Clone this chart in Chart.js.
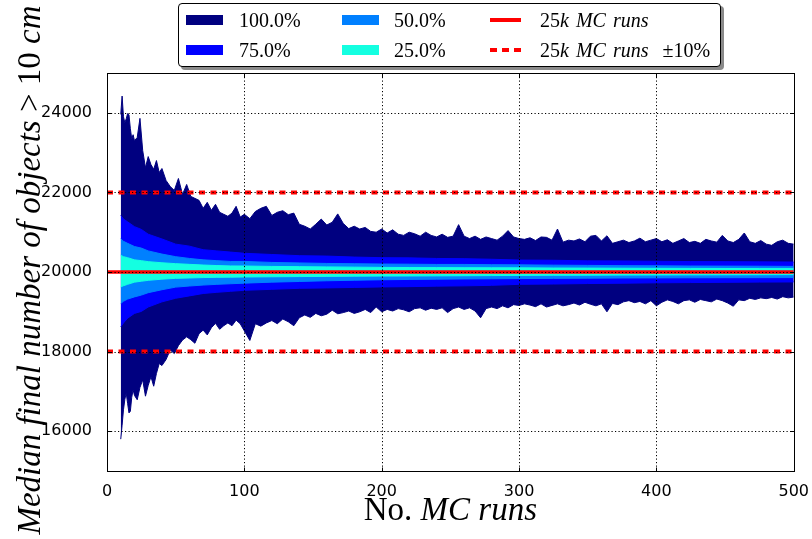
<!DOCTYPE html>
<html><head><meta charset="utf-8">
<script src="https://cdn.jsdelivr.net/npm/chart.js@4.4.1/dist/chart.umd.min.js"></script>
<style>
html,body{margin:0;padding:0;background:#fff;}
#wrap{position:relative;width:812px;height:539px;overflow:hidden;background:#fff;}
#legend{position:absolute;left:178px;top:3px;width:541px;height:62px;border:1px solid #000;border-radius:4px;background:#fff;box-shadow:3px 3px 0 #8a8a8a;font-family:"Liberation Serif",serif;font-size:20px;color:#000;}
.sw{position:absolute;height:10px;width:37px;}
.ln{position:absolute;height:3.5px;width:31px;}
.tx{position:absolute;line-height:20px;white-space:nowrap;word-spacing:2px;}
</style></head>
<body><div id="wrap"><canvas id="c" width="812" height="539"></canvas><div id="legend"></div></div>
<script>
// ---------- data ----------
const runsOuter = [10,11,12,13,14,15,16,17,18,19,20,22,24,26,28,30,32,34,36,38,40,43,46,49,52,55,58,61,64,67,70,73,76,79,82,85,88,91,94,97,100,
104,108,112,116,120,124,128,132,136,140,144,148,152,156,160,164,168,172,176,180,184,188,192,196,200,
204,208,212,216,220,224,228,232,236,240,244,248,252,256,260,264,268,272,276,280,284,288,292,296,300,
304,308,312,316,320,324,328,332,336,340,344,348,352,356,360,364,368,372,376,380,384,388,392,396,400,
404,408,412,416,420,424,428,432,436,440,444,448,452,456,460,464,468,472,476,480,484,488,492,496,500];

const upper100 = [23960,24420,23900,23750,23850,23980,23950,23600,23350,23450,23300,23380,23860,23050,22620,22900,22700,22580,22800,22500,22600,22300,22150,22050,22350,21950,22200,21900,21850,21800,21600,21750,21550,21700,21500,21450,21400,21480,21650,21380,21450,
21340,21520,21600,21650,21420,21500,21540,21440,21480,21200,21150,21080,21200,21330,21180,21250,21460,21220,21090,21150,21080,21120,21020,21000,21080,
20980,21060,20950,20920,21000,20960,20900,21000,20920,20880,20950,20870,20900,21190,20900,20840,20900,20820,20880,20840,20800,20900,21040,20880,20840,
20820,20860,20790,20880,20870,20800,21080,20750,20800,20780,20830,20760,20900,20920,20780,20910,20720,20760,20800,20740,20780,20850,20760,20800,20840,
20760,20810,20720,20780,20840,20740,20770,20720,20820,20780,20750,20920,20780,20740,20820,20980,20760,20720,20790,20700,20670,20760,20800,20720,20700];

const lower100 = [15800,16150,16540,16800,16960,16700,16460,16500,16850,17040,16900,16790,17100,17290,16880,17150,17370,17130,17450,17700,17650,17800,18040,17950,18150,18290,18370,18300,18210,18450,18540,18420,18600,18710,18560,18650,18720,18650,18790,18700,18520,
18280,18700,18640,18720,18780,18700,18820,18750,18650,18850,18920,18860,18960,18900,18940,19040,18950,18980,19020,18960,19000,19060,18980,19120,19000,
19060,19020,19080,19050,19000,19080,19100,19040,19090,19060,19100,18980,19080,19120,19060,19100,19020,18850,19080,19120,19080,19150,19100,19180,19160,
19200,19170,19130,19200,19120,19160,19200,19150,19180,19220,19170,19240,19190,19150,19200,19000,19210,19180,19250,19280,19230,19260,19200,19280,19150,
19240,19300,19260,19200,19280,19300,19240,19310,19280,19250,19320,19280,19220,19140,19300,19280,19340,19310,19350,19330,19360,19320,19380,19350,19370];

const runsInner = [10,12,15,20,25,30,40,50,60,70,80,90,100,120,140,160,180,200,220,240,260,280,300,325,350,375,400,425,450,475,500];
const upper75 = [21420,21330,21260,21140,21070,20950,20830,20700,20650,20560,20530,20500,20470,20440,20410,20400,20375,20360,20355,20340,20335,20320,20300,20295,20280,20278,20270,20262,20260,20255,20250];
const lower75 = [18625,18720,18840,18960,19010,19120,19250,19340,19400,19460,19490,19515,19540,19565,19590,19600,19612,19625,19632,19645,19652,19665,19690,19698,19710,19718,19728,19735,19740,19746,19750];
const upper50 = [20835,20770,20720,20640,20600,20530,20450,20385,20340,20305,20285,20265,20265,20240,20228,20215,20208,20200,20196,20190,20190,20184,20180,20172,20166,20160,20156,20150,20148,20145,20140];
const lower50 = [19210,19265,19320,19375,19420,19480,19555,19620,19648,19672,19690,19705,19720,19745,19762,19780,19793,19805,19813,19820,19826,19830,19835,19840,19845,19850,19852,19855,19857,19858,19860];
const upper25 = [20420,20385,20360,20305,20285,20260,20232,20210,20192,20175,20162,20152,20150,20140,20135,20128,20122,20116,20112,20110,20108,20106,20105,20100,20098,20095,20092,20090,20088,20086,20085];
const lower25 = [19625,19655,19690,19745,19768,19790,19820,19840,19850,19860,19866,19870,19875,19880,19885,19890,19895,19898,19900,19903,19906,19910,19915,19918,19920,19923,19926,19928,19930,19932,19935];

const refRange = [0, 500];
const refLevel = 20000;
const refUpper = 22000;
const refLower = 18000;

const xTicks = [0,100,200,300,400,500];
const yTicks = [16000,18000,20000,22000,24000];

const bandLabels = ['100.0%','75.0%','50.0%','25.0%'];
const bandColors = ['#000080','#0000ff','#0080ff','#14ffe1'];
const refColor = '#ff0000';

const xTitleParts = [['No.','normal'],[' MC runs','italic']];
const yTitleParts = [['Median final number of objects ','italic'],['> 10','normal'],[' cm','italic']];

// ---------- helpers ----------
const pts = (xs, ys) => xs.map((x, i) => ({x: x, y: ys[i]}));
const bandData = [
  [runsOuter, upper100, lower100],
  [runsInner, upper75, lower75],
  [runsInner, upper50, lower50],
  [runsInner, upper25, lower25]
];
const datasets = [];
bandData.forEach(([xs, up, lo], k) => {
  const ord = 40 - k * 10;
  datasets.push({label: bandLabels[k], data: pts(xs, up), borderColor: bandColors[k], backgroundColor: bandColors[k],
    borderWidth: 1, pointRadius: 0, fill: '+1', order: ord});
  datasets.push({label: bandLabels[k] + ' low', data: pts(xs, lo), borderColor: bandColors[k], backgroundColor: bandColors[k],
    borderWidth: 1, pointRadius: 0, fill: false, order: ord});
});
datasets.push({label: '25k MC runs', data: pts(refRange, [refLevel, refLevel]), borderColor: refColor, borderWidth: 3.5, pointRadius: 0, fill: false, order: 0});
datasets.push({label: '+10%', data: pts(refRange, [refUpper, refUpper]), borderColor: refColor, borderWidth: 4, borderDash: [6, 5.5], pointRadius: 0, fill: false, order: 0});
datasets.push({label: '-10%', data: pts(refRange, [refLower, refLower]), borderColor: refColor, borderWidth: 4, borderDash: [6, 5.5], pointRadius: 0, fill: false, order: 0});

function drawParts(ctx, parts, size) {
  const w = parts.map(([t, s]) => { ctx.font = s + ' ' + size + 'px "Liberation Serif"'; return ctx.measureText(t).width; });
  const total = w.reduce((a, b) => a + b, 0);
  let x = -total / 2;
  parts.forEach(([t, s], i) => { ctx.font = s + ' ' + size + 'px "Liberation Serif"'; ctx.fillText(t, x, 0); x += w[i]; });
}

const frameGrid = {
  id: 'frameGrid',
  afterDatasetsDraw(chart) {
    const {ctx, chartArea: a, scales: {x, y}} = chart;
    const L = Math.round(a.left) + 0.5, R = Math.round(a.right) + 0.5, T = Math.round(a.top) + 0.5, B = Math.round(a.bottom) + 0.5;
    ctx.save();
    ctx.strokeStyle = '#000';
    ctx.lineWidth = 1;
    ctx.setLineDash([1.2, 2.3]);
    x.ticks.forEach(t => { const p = Math.round(x.getPixelForValue(t.value)) + 0.5; ctx.beginPath(); ctx.moveTo(p, T); ctx.lineTo(p, B); ctx.stroke(); });
    y.ticks.forEach(t => { const p = Math.round(y.getPixelForValue(t.value)) + 0.5; ctx.beginPath(); ctx.moveTo(L, p); ctx.lineTo(R, p); ctx.stroke(); });
    ctx.setLineDash([]);
    ctx.beginPath();
    x.ticks.forEach(t => { const p = Math.round(x.getPixelForValue(t.value)) + 0.5; ctx.moveTo(p, B); ctx.lineTo(p, B - 4); ctx.moveTo(p, T); ctx.lineTo(p, T + 4); });
    y.ticks.forEach(t => { const p = Math.round(y.getPixelForValue(t.value)) + 0.5; ctx.moveTo(L, p); ctx.lineTo(L + 4, p); ctx.moveTo(R, p); ctx.lineTo(R - 4, p); });
    ctx.stroke();
    ctx.strokeRect(L, T, R - L, B - T);
    ctx.restore();
  },
  afterDraw(chart) {
    const {ctx, chartArea: a} = chart;
    ctx.save();
    ctx.fillStyle = '#000';
    ctx.textBaseline = 'alphabetic';
    ctx.textAlign = 'left';
    ctx.save();
    ctx.translate((a.left + a.right) / 2, 520);
    drawParts(ctx, xTitleParts, 33);
    ctx.restore();
    ctx.save();
    ctx.translate(40, 270);
    ctx.rotate(-Math.PI / 2);
    drawParts(ctx, yTitleParts, 33);
    ctx.restore();
    ctx.restore();
  }
};

new Chart(document.getElementById('c'), {
  type: 'line',
  data: {datasets: datasets},
  options: {
    responsive: false,
    animation: false,
    devicePixelRatio: 1,
    layout: {padding: {top: 73, right: 18, bottom: 0, left: 0}},
    plugins: {legend: {display: false}, tooltip: {enabled: false}},
    scales: {
      x: {
        type: 'linear', min: 0, max: 500,
        afterBuildTicks: s => { s.ticks = xTicks.map(v => ({value: v})); },
        afterFit: s => { s.height = 68; },
        grid: {display: false},
        border: {display: false},
        ticks: {autoSkip: false, maxRotation: 0, padding: 3, color: '#000', font: {family: 'DejaVu Sans', size: 16}, callback: v => String(v)}
      },
      y: {
        type: 'linear', min: 15000, max: 25000,
        afterBuildTicks: s => { s.ticks = yTicks.map(v => ({value: v})); },
        afterFit: s => { s.width = 107; },
        grid: {display: false},
        border: {display: false},
        ticks: {padding: 7, color: '#000', font: {family: 'DejaVu Sans', size: 16}, callback: v => String(v)}
      }
    }
  },
  plugins: [frameGrid]
});

// ---------- legend (HTML) ----------
const lg = document.getElementById('legend');
const items = [
  {kind: 'sw', color: bandColors[0], sx: 7, tx: 60, row: 0, html: bandLabels[0]},
  {kind: 'sw', color: bandColors[1], sx: 7, tx: 60, row: 1, html: bandLabels[1]},
  {kind: 'sw', color: bandColors[2], sx: 163, tx: 215, row: 0, html: bandLabels[2]},
  {kind: 'sw', color: bandColors[3], sx: 163, tx: 215, row: 1, html: bandLabels[3]},
  {kind: 'ln', color: refColor, sx: 311, tx: 361, row: 0, html: '25<i>k MC runs</i>'},
  {kind: 'dash', color: refColor, sx: 311, tx: 361, row: 1, html: '25<i>k MC runs</i> &nbsp;±10%'}
];
items.forEach(it => {
  const cy = it.row === 0 ? 16 : 46;
  const s = document.createElement('div');
  if (it.kind === 'sw') {
    s.className = 'sw'; s.style.background = it.color; s.style.top = (cy - 5) + 'px';
  } else {
    s.className = 'ln'; s.style.top = (cy - 1.75) + 'px';
    s.style.background = it.kind === 'ln' ? it.color : 'repeating-linear-gradient(to right,' + it.color + ' 0 7px, transparent 7px 12px)';
  }
  s.style.left = it.sx + 'px';
  lg.appendChild(s);
  const t = document.createElement('div');
  t.className = 'tx'; t.style.left = it.tx + 'px'; t.style.top = (cy - 10) + 'px';
  t.innerHTML = it.html;
  lg.appendChild(t);
});
</script>
</body></html>
